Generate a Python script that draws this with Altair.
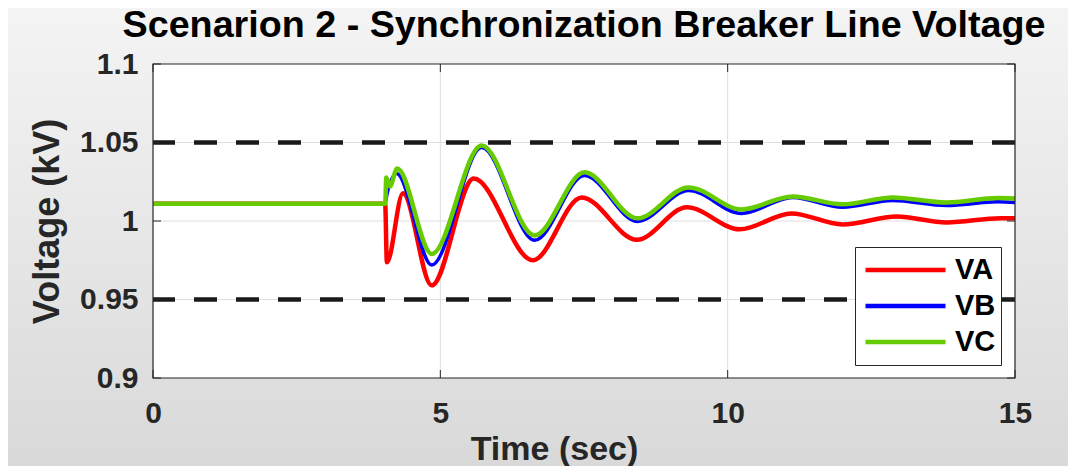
import altair as alt
import pandas as pd

# ---- data ----
t_va = [0, 4.04, 4.07, 4.35, 4.85, 5.58, 6.61, 7.46, 8.42, 9.29, 10.21, 11.11, 12.0, 12.94, 13.81, 14.75, 15]
v_va = [1.011, 1.011, 0.9737, 1.0176, 0.959, 1.0271, 0.975, 1.015, 0.988, 1.0087, 0.9947, 1.0048, 0.9978, 1.0029, 0.9991, 1.0018, 1.0017]

t_vb = [0, 4.04, 4.07, 4.24, 4.85, 5.72, 6.64, 7.51, 8.43, 9.32, 10.24, 11.13, 12.0, 12.87, 13.81, 14.7, 15]
v_vb = [1.011, 1.011, 1.017, 1.0303, 0.972, 1.0468, 0.9877, 1.029, 0.9997, 1.0195, 1.0048, 1.015, 1.0087, 1.0131, 1.0099, 1.0122, 1.0118]

t_vc = [0, 4.04, 4.06, 4.12, 4.25, 4.85, 5.72, 6.64, 7.51, 8.43, 9.32, 10.24, 11.13, 12.0, 12.87, 13.81, 14.7, 15]
v_vc = [1.011, 1.011, 1.0277, 1.022, 1.0335, 0.979, 1.0481, 0.9908, 1.031, 1.0017, 1.0214, 1.0074, 1.0156, 1.0106, 1.015, 1.0118, 1.0146, 1.0144]

series_names = ["VA", "VB", "VC"]
series_colors = ["#FF0000", "#0000FF", "#66CC00"]
limit_values = [1.05, 0.95]
x_ticks = [0, 5, 10, 15]
y_ticks = [0.9, 0.95, 1.0, 1.05, 1.1]
x_grid = [5, 10]
y_grid = [0.95, 1.0, 1.05]
title_text = "Scenarion 2 - Synchronization Breaker Line Voltage"

W, H = 862, 314
PL, PT, PR, PB = 145, 56, 53, 88

rows = []
for name, ts, vs in zip(series_names, [t_va, t_vb, t_vc], [v_va, v_vb, v_vc]):
    for t, v in zip(ts, vs):
        rows.append({"series": name, "t": t, "v": v})
df = pd.DataFrame(rows)

one = pd.DataFrame({"k": [0]})
font = "Liberation Sans"

xscale = alt.Scale(domain=[0, 15], nice=False, zero=False)
yscale = alt.Scale(domain=[0.9, 1.1], nice=False, zero=False)

bg = alt.Chart(one).mark_rect(
    color=alt.Gradient(gradient="linear", x1=0, y1=0, x2=0, y2=1,
                       stops=[alt.GradientStop(offset=0, color="#f4f4f4"),
                              alt.GradientStop(offset=1, color="#d9d9d9")])
).encode(x=alt.value(-PL), x2=alt.value(W + PR), y=alt.value(-PT), y2=alt.value(H + PB))

plotbg = alt.Chart(one).mark_rect(color="white").encode(
    x=alt.value(0), x2=alt.value(W), y=alt.value(0), y2=alt.value(H))

title_mark = alt.Chart(one).mark_text(
    text=title_text, font=font, fontSize=37.7, fontWeight="bold", color="#000000",
    align="center", baseline="alphabetic").encode(x=alt.value(W / 2), y=alt.value(-27))

gx = alt.Chart(pd.DataFrame({"x": x_grid})).mark_rule(color="#dedede", strokeWidth=1).encode(
    x=alt.X("x:Q", scale=xscale))
gy = alt.Chart(pd.DataFrame({"y": y_grid})).mark_rule(color="#dedede", strokeWidth=1).encode(
    y=alt.Y("y:Q", scale=yscale))

limits = alt.Chart(pd.DataFrame({"y": limit_values})).mark_rule(
    color="#1a1a1a", strokeWidth=4.5, strokeDash=[23, 19]).encode(
    y=alt.Y("y:Q", scale=yscale))

widths = {"VA": 4.5, "VB": 3.5, "VC": 4.5}
line_layers = []
for name in series_names:
    line_layers.append(
        alt.Chart(df).transform_filter(alt.datum.series == name).mark_line(
            interpolate="monotone", strokeWidth=widths[name]).encode(
            x=alt.X("t:Q", scale=xscale,
                    axis=alt.Axis(values=x_ticks, format="~g", title="Time (sec)", grid=False,
                                  domain=False, ticks=False, labelPadding=20, labelFlush=False,
                                  titleX=401, titleY=81, titleBaseline="alphabetic",
                                  titleFontSize=34, titleAlign="center", zindex=1)),
            y=alt.Y("v:Q", scale=yscale,
                    axis=alt.Axis(values=y_ticks, format="~g", title="Voltage (kV)", grid=False,
                                  domain=False, ticks=False, labelPadding=15, labelFlush=False,
                                  titleX=-95, titleY=H / 2, titleAngle=-90,
                                  titleBaseline="alphabetic", titleAlign="center", zindex=1)),
            color=alt.Color("series:N", scale=alt.Scale(domain=series_names, range=series_colors),
                            legend=alt.Legend(title=None, orient="none", legendX=702, legendY=183,
                                              symbolType="stroke", symbolSize=6400,
                                              symbolStrokeWidth=4.5, clipHeight=36,
                                              labelFontSize=29, labelFont=font,
                                              labelFontWeight="bold", labelColor="#000000",
                                              labelOffset=7, padding=5, symbolOffset=3,
                                              fillColor="white", strokeColor="#262626",
                                              rowPadding=0)),
        )
    )

tick_len = 8
xt_bottom = alt.Chart(pd.DataFrame({"x": x_ticks})).mark_rule(color="#262626").encode(
    x=alt.X("x:Q", scale=xscale), y=alt.value(H), y2=alt.value(H - tick_len))
xt_top = alt.Chart(pd.DataFrame({"x": x_ticks})).mark_rule(color="#262626").encode(
    x=alt.X("x:Q", scale=xscale), y=alt.value(0), y2=alt.value(tick_len))
yt_left = alt.Chart(pd.DataFrame({"y": y_ticks})).mark_rule(color="#262626").encode(
    y=alt.Y("y:Q", scale=yscale), x=alt.value(0), x2=alt.value(tick_len))
yt_right = alt.Chart(pd.DataFrame({"y": y_ticks})).mark_rule(color="#262626").encode(
    y=alt.Y("y:Q", scale=yscale), x=alt.value(W), x2=alt.value(W - tick_len))

frame = alt.Chart(one).mark_rect(fillOpacity=0, stroke="#262626", strokeWidth=1.2).encode(
    x=alt.value(0), x2=alt.value(W), y=alt.value(0), y2=alt.value(H))

chart = alt.layer(
    bg, plotbg, title_mark, gx, gy, limits, *line_layers,
    xt_bottom, xt_top, yt_left, yt_right, frame
).properties(
    width=W, height=H,
    autosize=alt.AutoSizeParams(type="none"),
    padding={"left": PL, "top": PT, "right": PR, "bottom": PB},
).configure_view(stroke=None).configure_axis(
    labelFont=font, labelFontSize=30, labelFontWeight="bold", labelColor="#262626",
    titleFont=font, titleFontSize=36, titleFontWeight="bold", titleColor="#262626",
)

chart.save("out.html", embed_options={"renderer": "svg", "actions": False})
